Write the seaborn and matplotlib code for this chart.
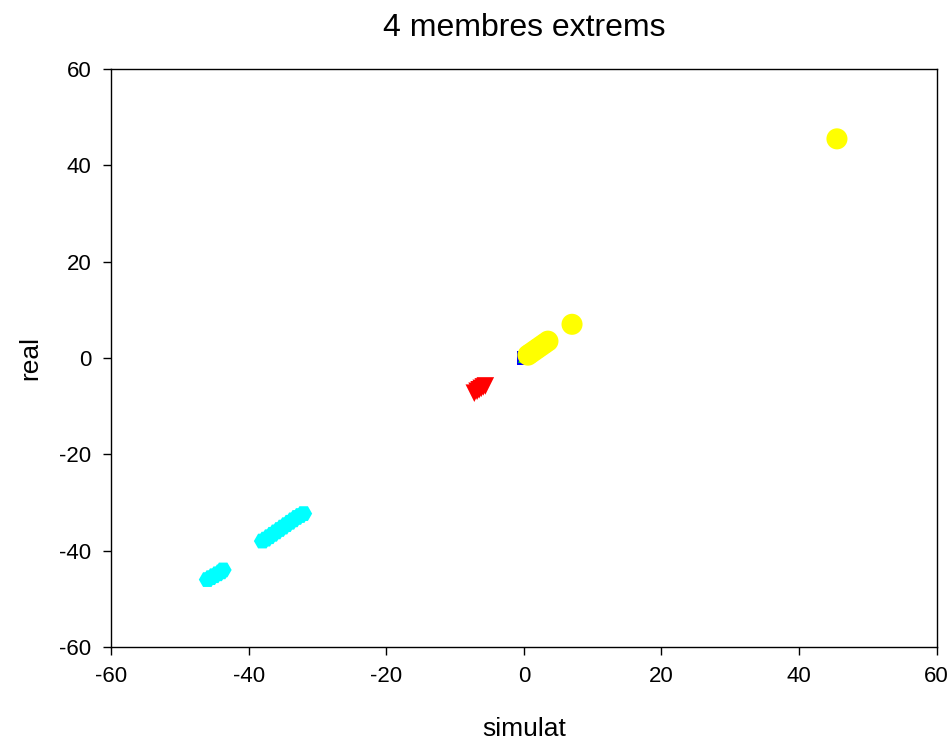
import pandas as pd
import matplotlib
matplotlib.use("Agg")
import matplotlib.pyplot as plt
import seaborn as sns

# data (simulat vs real), one group per member
cyan_x = [-46, -45.5, -45, -44.5, -44, -43.7, -38, -37.5, -37, -36.5, -36, -35.5, -35, -34.5, -34, -33.5, -33, -32.5, -32]
cyan_y = [-46, -45.6, -45.2, -44.8, -44.4, -44, -38, -37.6, -37.1, -36.6, -36.1, -35.6, -35.1, -34.6, -34.1, -33.6, -33.1, -32.7, -32.3]
red_x = [-7.2, -6.8, -6.5, -6.2, -5.9, -5.6]
red_y = [-7.3, -6.9, -6.6, -6.3, -6.0, -5.8]
blue_x = [-0.1, 0.2]
blue_y = [0.0, 0.1]
green_x = [-0.2]
green_y = [-0.1]
purple_x = [0.3, 0.6]
purple_y = [-0.3, 0.0]
yellow_x = [0.6, 1.0, 1.5, 2.0, 2.5, 3.0, 3.5, 7.0, 45.5]
yellow_y = [0.6, 1.0, 1.5, 2.0, 2.5, 3.0, 3.5, 7.0, 45.5]

groups = [
    ("cyan", cyan_x, cyan_y, "H", 150),
    ("red", red_x, red_y, "v", 160),
    ("blue", blue_x, blue_y, "s", 90),
    ("purple", purple_x, purple_y, "o", 60),
    ("lime", green_x, green_y, "^", 40),
    ("yellow", yellow_x, yellow_y, "o", 230),
]

plt.rcParams['font.family'] = ['Liberation Sans', 'DejaVu Sans']
plt.rcParams['axes.unicode_minus'] = False
fig = plt.figure(figsize=(9.51, 7.42), dpi=100)
ax = fig.add_axes([0.1167, 0.128, 0.8683, 0.779])

for color, xs, ys, marker, size in groups:
    df = pd.DataFrame({"simulat": xs, "real": ys})
    sns.scatterplot(data=df, x="simulat", y="real", color=color, marker=marker,
                    s=size, edgecolor="none", linewidth=0, ax=ax)

ax.set_xlim(-60, 60)
ax.set_ylim(-60, 60)
ax.set_xticks(range(-60, 61, 20))
ax.set_yticks(range(-60, 61, 20))
ax.tick_params(direction="out", length=6, labelsize=16, width=1)
ax.tick_params(axis="x", pad=8)
ax.tick_params(axis="y", pad=8)
ax.set_xlabel("simulat", fontsize=19, labelpad=21)
ax.set_ylabel("real", fontsize=19, labelpad=12)
ax.set_title("4 membres extrems", fontsize=23, pad=24)
for sp in ax.spines.values():
    sp.set_linewidth(1)
    sp.set_color("black")

fig.savefig("out.png", dpi=100)
